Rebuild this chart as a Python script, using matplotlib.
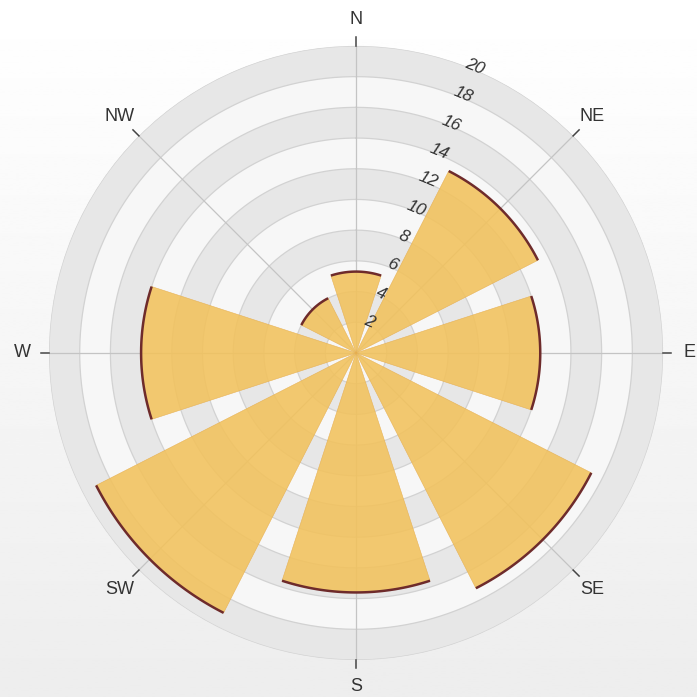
"""Wind rose style polar bar chart with banded rings."""

import matplotlib

matplotlib.use("Agg")
import matplotlib.pyplot as plt
import numpy as np

plt.rcParams["font.family"] = ["Liberation Sans", "DejaVu Sans"]

directions = ["N", "NE", "E", "SE", "S", "SW", "W", "NW"]
values = [5.3, 13.3, 12.0, 17.2, 15.6, 19.0, 14.0, 4.0]
ring_ticks = [2, 4, 6, 8, 10, 12, 14, 16, 18, 20]

BAR_COLOR = (0.95, 0.76, 0.36)
EDGE_COLOR = "#6e2b2b"
BAND_GRAY = "#e7e7e7"
BAND_LIGHT = "#f7f7f7"

fig = plt.figure(figsize=(6.97, 6.97), dpi=100)

# soft vertical gradient behind everything
bg = fig.add_axes([0, 0, 1, 1], zorder=-5)
grad = np.linspace(1.0, 0.93, 256).reshape(-1, 1)
bg.imshow(grad, cmap="gray", vmin=0, vmax=1, aspect="auto", extent=[0, 1, 0, 1])
bg.axis("off")

ax = fig.add_axes([0.0703, 0.0531, 0.881, 0.881], projection="polar")
ax.set_theta_zero_location("N")
ax.set_theta_direction(-1)
ax.set_ylim(0, 20)
ax.patch.set_alpha(0)
ax.grid(False)
ax.set_xticks([])
ax.set_yticks([])
ax.spines["polar"].set_visible(False)

full = np.linspace(0, 2 * np.pi, 400)

# alternating ring bands
prev = 0
for i, r in enumerate(ring_ticks):
    color = BAND_LIGHT if i % 2 == 0 else BAND_GRAY
    ax.bar(0, r - prev, width=2 * np.pi, bottom=prev, color=color,
           edgecolor="none", zorder=0.5)
    ax.plot(full, np.full_like(full, r), color="#d2d2d2", lw=0.9, zorder=1)
    prev = r

# radial spokes + ticks outside
angles = np.deg2rad(np.arange(len(directions)) * 360 / len(directions))
for ang, name in zip(angles, directions):
    ax.plot([ang, ang], [0, 20], color="#c4c4c4", lw=0.9, zorder=1)
    ax.plot([ang, ang], [20.0, 20.55], color="#444444", lw=1.1,
            zorder=4, clip_on=False)
    ax.text(ang, 21.75, name, ha="center", va="center", fontsize=13,
            color="#333333", zorder=5, clip_on=False)

# bars
width = 0.8 * 2 * np.pi / len(directions)
ax.bar(angles, values, width=width, color=BAR_COLOR, alpha=0.88,
       edgecolor=(0.9, 0.68, 0.3), linewidth=0.4, zorder=2)

# dark outer arc on each bar
for ang, v in zip(angles, values):
    arc = np.linspace(ang - width / 2, ang + width / 2, 60)
    ax.plot(arc, np.full_like(arc, v), color=EDGE_COLOR, lw=1.8,
            solid_capstyle="butt", zorder=3)

# ring value labels along a diagonal
lab_ang = np.deg2rad(22.5)
for r in ring_ticks:
    ax.text(lab_ang, r + 0.2, str(r), ha="center", va="center",
            fontsize=12.5, style="italic", color="#333333",
            rotation=-22.5, rotation_mode="anchor", zorder=6)

fig.savefig("out.png", dpi=100)
